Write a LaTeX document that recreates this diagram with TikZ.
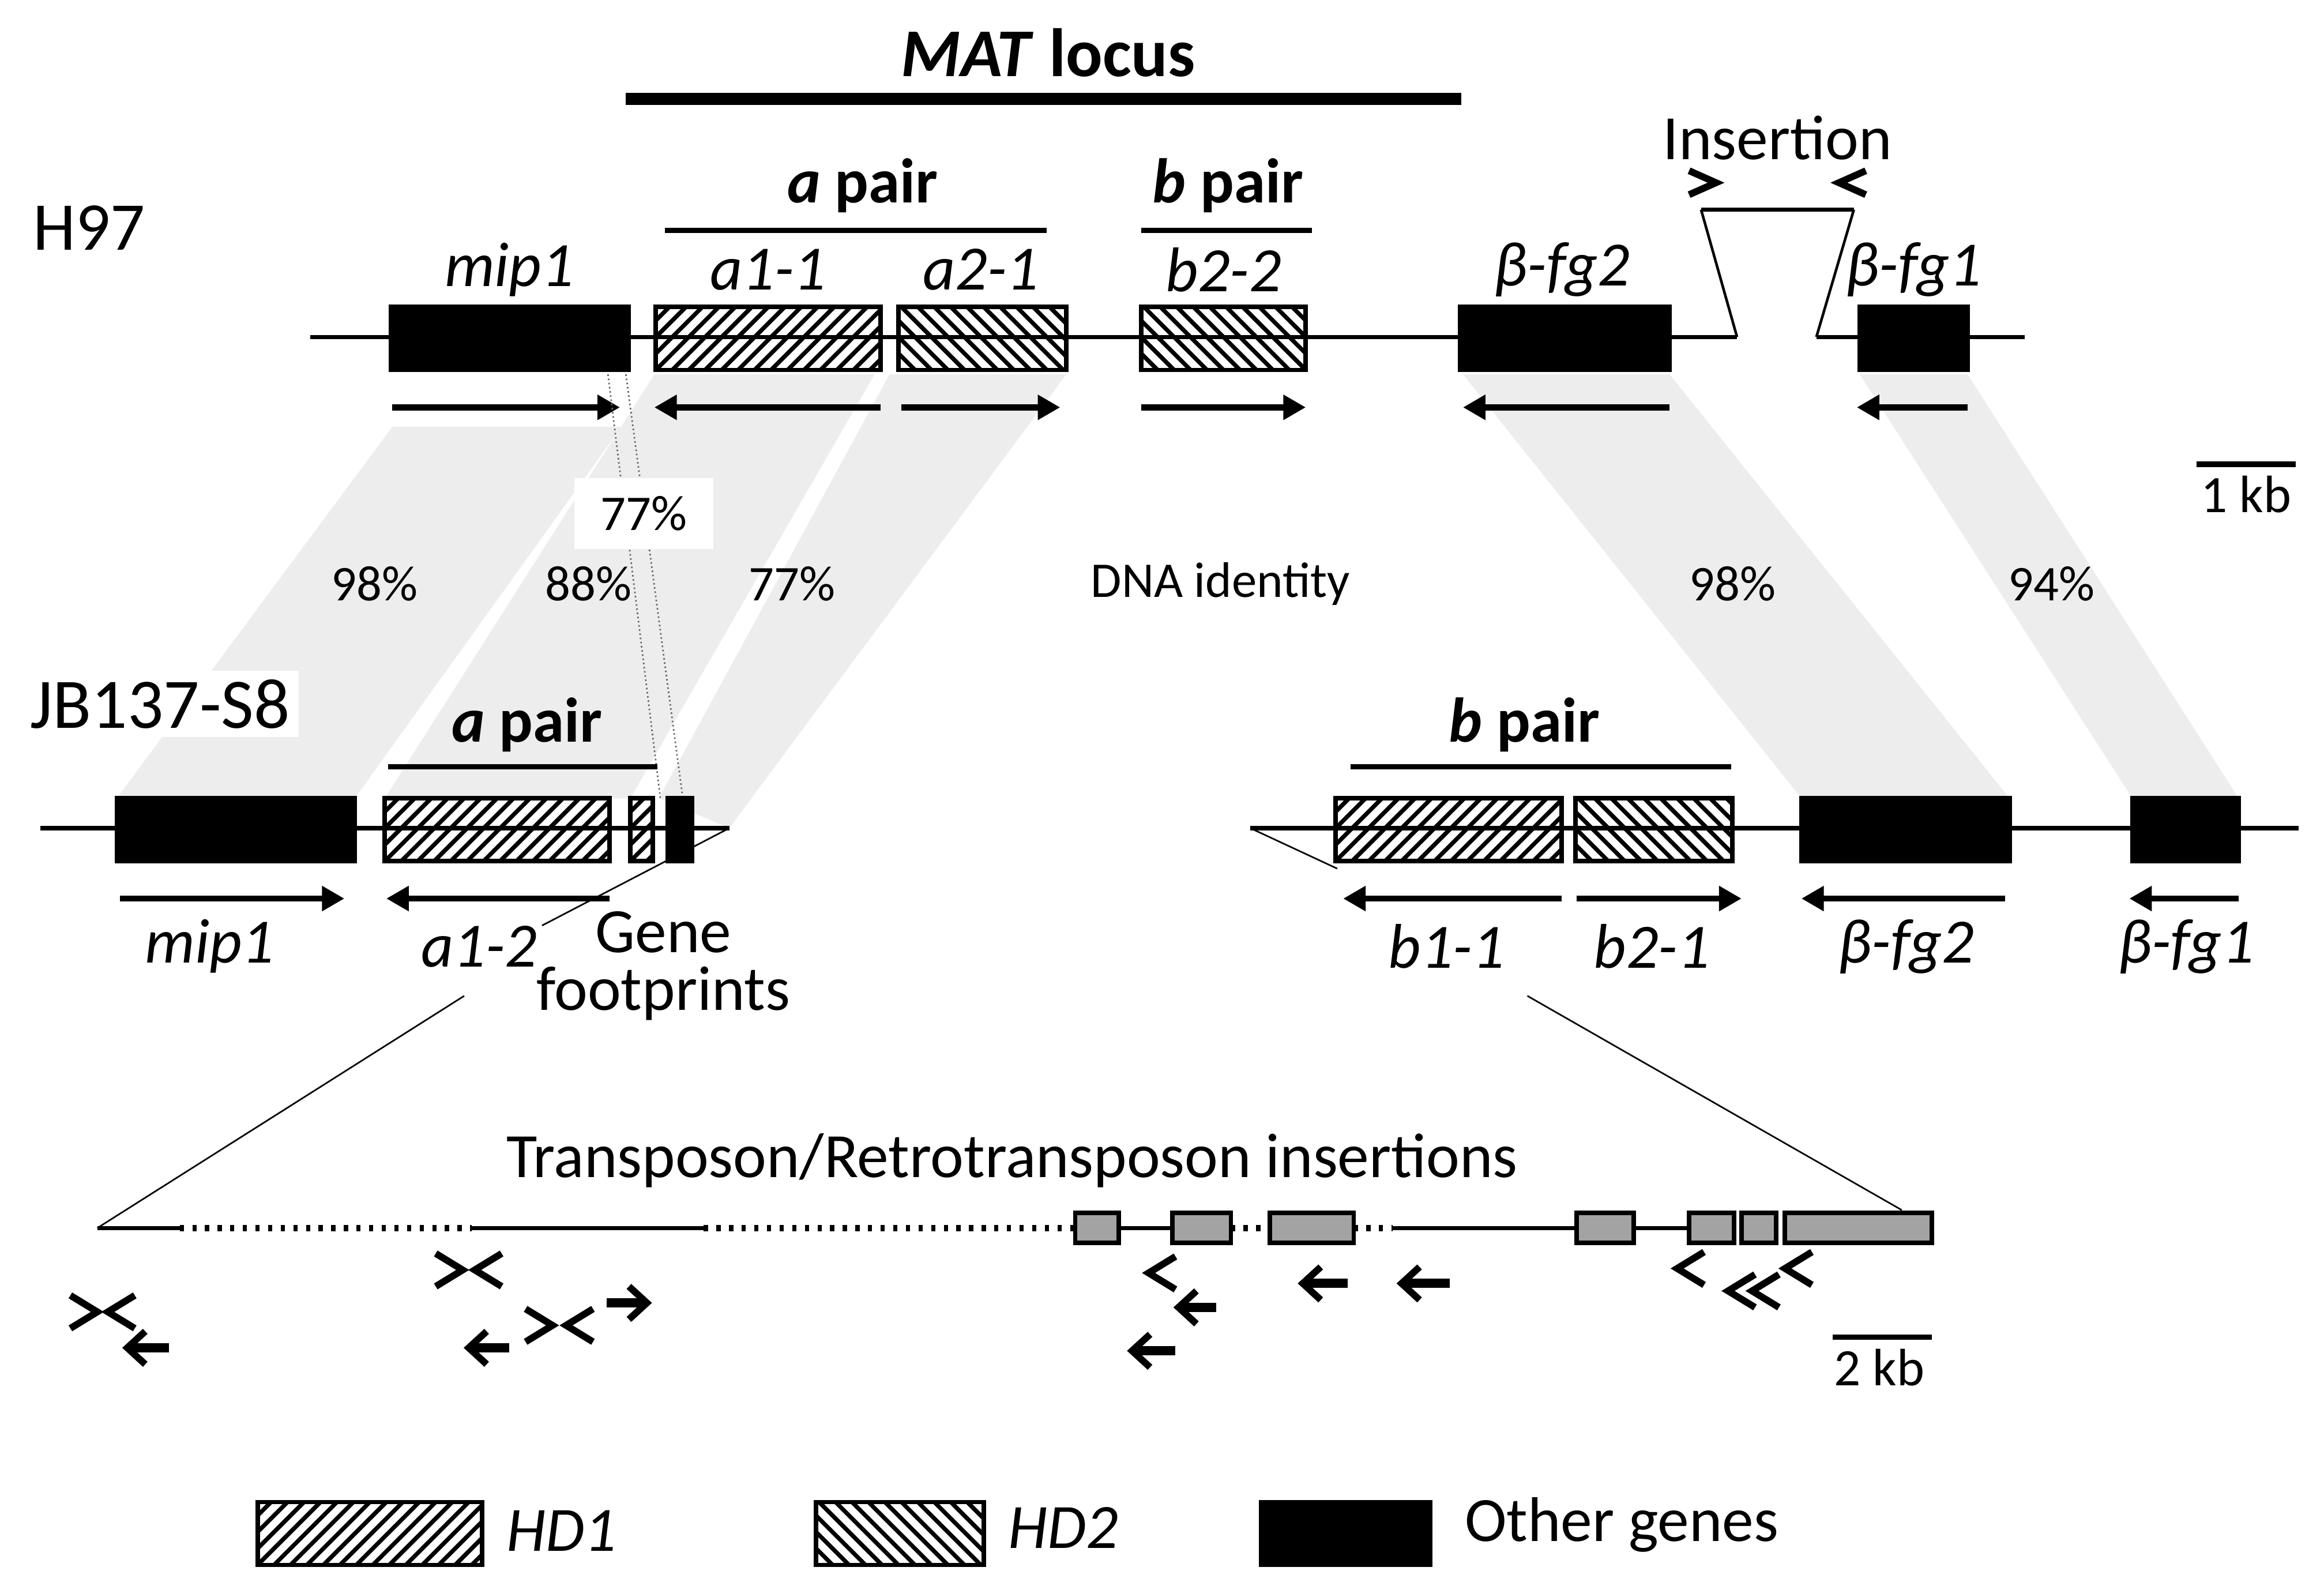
\documentclass[tikz,border=0pt]{standalone}
\usepackage{fontspec}
\setmainfont{Carlito}
\usetikzlibrary{arrows.meta,calc}
\begin{document}
\begin{tikzpicture}[x=0.02cm,y=-0.02cm,
  gbase/.style={draw,line width=1.7pt,minimum height=0.84cm,inner sep=0pt},
  other/.style={gbase,fill=black},
  hdone/.style={gbase,path picture={\foreach \i in {-6,...,16}{\draw[line width=1.6pt] ($(path picture bounding box.south west)+(\i*0.22cm,0)$) -- ++(1.2cm,1.2cm);}}},
  hdtwo/.style={gbase,path picture={\foreach \i in {-2,...,20}{\draw[line width=1.6pt] ($(path picture bounding box.south west)+(\i*0.22cm,0)$) -- ++(-1.2cm,1.2cm);}}},
  tp/.style={draw,line width=1.7pt,fill=black!36,minimum height=0.4cm,inner sep=0pt},
  garrow/.style={line width=2.4pt,-{Triangle[length=0.3cm,width=0.32cm]}},
  glab/.style={font=\fontsize{24}{28}\selectfont\itshape},
  blab/.style={font=\fontsize{24}{28}\selectfont\bfseries},
  pct/.style={font=\fontsize{19}{22}\selectfont},
  bar/.style={line width=2pt},
  chain/.style={line width=1.6pt},
  band/.style={fill=black!7},
  chv/.style={line width=2.6pt},
]
\newcommand\gbox[5]{\node[#1,minimum width={(#4-#3)*0.02cm}] (#2) at ({(#3+#4)/2},#5) {};}
\newcommand\tbox[3]{\node[tp,minimum width={(#3-#2)*0.02cm}] (#1) at ({(#2+#3)/2},820) {};}
\newcommand\chl[2]{\draw[chv] (#1+18,#2-11) -- (#1,#2) -- (#1+18,#2+11);}
\newcommand\chr[2]{\draw[chv] (#1-18,#2-11) -- (#1,#2) -- (#1-18,#2+11);}
\newcommand\arl[3]{\draw[chv] (#1+12,#3-11) -- (#1,#3) -- (#1+12,#3+11); \draw[line width=3.5pt] (#1+3,#3) -- (#2,#3);}
\newcommand\arr[3]{\draw[chv] (#2-12,#3-11) -- (#2,#3) -- (#2-12,#3+11); \draw[line width=3.5pt] (#1,#3) -- (#2-3,#3);}
\useasboundingbox (0,0) rectangle (1552,1059);

% identity bands
\fill[band] (262,285) -- (415,285) -- (237,533) -- (78,533) -- cycle;
\fill[band] (437,250) -- (584,250) -- (421,533) -- (257,533) -- cycle;
\fill[band] (594,250) -- (712,250) -- (487,553) -- (440,533) -- cycle;
\fill[band] (977,250) -- (1115,250) -- (1342,533) -- (1203,533) -- cycle;
\fill[band] (1242,250) -- (1314,250) -- (1495,533) -- (1424,533) -- cycle;

% MAT locus
\node[font=\fontsize{26}{30}\selectfont\bfseries] (mat) at (700,35) {\textit{MAT} locus};
\draw[line width=4.5pt] (418,66) -- (976,66);

% H97
\node[anchor=west,font=\fontsize{26}{30}\selectfont] (h97) at (16,152) {H97};
\coordinate (h1) at (207,225); \coordinate (h2) at (1160,225);
\coordinate (h3) at (1213,225); \coordinate (h4) at (1352,225);
\draw[chain] (h1) -- (h2); \draw[chain] (h3) -- (h4);
\coordinate (i1) at (1136,140); \coordinate (i2) at (1238,140);
\draw[line width=1pt] (h2) -- (i1); \draw[line width=1pt] (h3) -- (i2);
\draw[chain] (i1) -- (i2);
\draw[chv] (1128,114) -- (1146,122) -- (1128,130);
\draw[chv] (1246,114) -- (1228,122) -- (1246,130);
\node[font=\fontsize{24}{28}\selectfont] (ins) at (1187,92) {Insertion};

\gbox{other}{mipH}{261}{420}{226}
\gbox{hdone}{a11}{438}{588}{226}
\gbox{hdtwo}{a21}{600}{712}{226}
\gbox{hdtwo}{b22}{762}{872}{226}
\gbox{other}{fg2H}{975}{1115}{226}
\gbox{other}{fg1H}{1242}{1314}{226}

\draw[garrow] (262,272) -- (414,272);
\draw[garrow] (588,272) -- (437,272);
\draw[garrow] (602,272) -- (708,272);
\draw[garrow] (762,272) -- (872,272);
\draw[garrow] (1115,272) -- (977,272);
\draw[garrow] (1314,272) -- (1240,272);

\node[glab] (lmipH) at (340,180) {mip1};
\node[glab] (la11) at (513,180) {a1-1};
\node[glab] (la21) at (655,180) {a2-1};
\node[glab] (lb22) at (817,180) {b2-2};
\node[glab] (lfg2H) at (1043,180) {β-fg2};
\node[glab] (lfg1H) at (1278,180) {β-fg1};

\draw[bar] (444,154) -- (699,154);
\node[blab] (apH) at (576,124) {\textit{a} pair};
\draw[bar] (762,154) -- (876,154);
\node[blab] (bpH) at (820,124) {\textit{b} pair};

\draw[bar] (1467,310) -- (1533,310);
\node[font=\fontsize{20}{24}\selectfont] (kb1) at (1500,330) {1 kb};

% 77% footprint lines
\draw[black!60,line width=0.6pt,densely dotted] (406,250) -- (441,533);
\draw[black!60,line width=0.6pt,densely dotted] (418,250) -- (456,533);
\node[pct,fill=white,minimum width=1.85cm,minimum height=0.95cm] (p77a) at (430,343) {77\%};

\node[pct] (p98a) at (250,390) {98\%};
\node[pct] (p88) at (393,390) {88\%};
\node[pct] (p77b) at (529,390) {77\%};
\node[pct] (dna) at (815,390) {DNA identity};
\node[pct] (p98b) at (1157,390) {98\%};
\node[pct] (p94) at (1370,390) {94\%};

% JB137-S8
\node[anchor=west,font=\fontsize{27}{31}\selectfont,fill=white] (jb) at (14,470) {JB137-S8};
\coordinate (j1) at (27,553); \coordinate (j2) at (487,553);
\coordinate (j3) at (835,553); \coordinate (j4) at (1535,553);
\draw[chain] (j1) -- (j2); \draw[chain] (j3) -- (j4);
\gbox{other}{mipJ}{78}{237}{554}
\gbox{hdone}{a12}{257}{407}{554}
\gbox{hdone}{fpa}{421}{436}{554}
\gbox{other}{fpb}{446}{462}{554}
\gbox{hdone}{b11}{892}{1043}{554}
\gbox{hdtwo}{b21}{1052}{1157}{554}
\gbox{other}{fg2J}{1203}{1342}{554}
\gbox{other}{fg1J}{1424}{1495}{554}

\draw[garrow] (80,600) -- (230,600);
\draw[garrow] (407,600) -- (258,600);
\draw[garrow] (1043,600) -- (897,600);
\draw[garrow] (1053,600) -- (1163,600);
\draw[garrow] (1339,600) -- (1203,600);
\draw[garrow] (1495,600) -- (1422,600);

\node[glab] (lmipJ) at (140,632) {mip1};
\node[glab] (la12) at (320,632) {a1-2};
\node[glab] (lb11) at (966,632) {b1-1};
\node[glab] (lb21) at (1103,632) {b2-1};
\node[glab] (lfg2J) at (1273,632) {β-fg2};
\node[glab] (lfg1J) at (1460,632) {β-fg1};
\node[font=\fontsize{24}{22}\selectfont,align=center] (gfp) at (443,645) {Gene\\footprints};

\draw[bar] (259,512) -- (439,512);
\node[blab] (apJ) at (352,484) {\textit{a} pair};
\draw[bar] (902,512) -- (1156,512);
\node[blab] (bpJ) at (1018,484) {\textit{b} pair};

% zoom lines
\coordinate (z1) at (362,618); \coordinate (z2) at (893,580);
\draw[line width=0.6pt] (j2) -- (z1);
\draw[line width=0.6pt] (j3) -- (z2);
\coordinate (z3) at (310,665); \coordinate (z4) at (65,820);
\coordinate (z5) at (1020,665); \coordinate (z6) at (1270,808);
\draw[line width=0.6pt] (z3) -- (z4);
\draw[line width=0.6pt] (z5) -- (z6);

% transposon track
\node[font=\fontsize{24}{28}\selectfont] (tt) at (676,775) {Transposon/Retrotransposon insertions};
\draw[chain] (65,820) -- (120,820);
\draw[line width=2.4pt,dash pattern=on 1.6pt off 3.2pt] (120,820) -- (315,820);
\draw[chain] (315,820) -- (470,820);
\draw[line width=2.4pt,dash pattern=on 1.6pt off 3.2pt] (470,820) -- (718,820);
\draw[chain] (747,820) -- (783,820);
\draw[line width=2.4pt,dash pattern=on 1.6pt off 3.2pt] (822,820) -- (848,820);
\draw[line width=2.4pt,dash pattern=on 1.6pt off 3.2pt] (904,820) -- (930,820);
\draw[chain] (930,820) -- (1053,820);
\draw[chain] (1091,820) -- (1128,820);
\tbox{t1}{718}{747}
\tbox{t2}{783}{822}
\tbox{t3}{848}{904}
\tbox{t4}{1053}{1091}
\tbox{t5}{1128}{1158}
\tbox{t6}{1163}{1186}
\tbox{t7}{1192}{1290}

% orientation marks
\chr{65}{876} \chl{72}{876}
\arl{85}{113}{900}
\chr{309}{848} \chl{317}{848}
\arr{405}{432}{870}
\chr{369}{885} \chl{378}{885}
\arl{313}{340}{900}
\chl{767}{850}
\arl{787}{812}{873}
\arl{756}{785}{902}
\arl{870}{900}{857}
\arl{936}{968}{857}
\chl{1120}{847}
\chl{1154}{862} \chl{1170}{862}
\chl{1192}{847}

\draw[bar] (1224,893) -- (1290,893);
\node[font=\fontsize{20}{24}\selectfont] (kb2) at (1255,913) {2 kb};

% legend
\gbox{hdone}{lg1}{172}{322}{1024}
\node[glab,anchor=west] (lgt1) at (332,1022) {HD1};
\gbox{hdtwo}{lg2}{545}{657}{1024}
\node[glab,anchor=west] (lgt2) at (667,1020) {HD2};
\gbox{other}{lg3}{842}{955}{1024}
\node[font=\fontsize{24}{28}\selectfont,anchor=west] (lgt3) at (972,1018) {Other genes};
\end{tikzpicture}
\end{document}
